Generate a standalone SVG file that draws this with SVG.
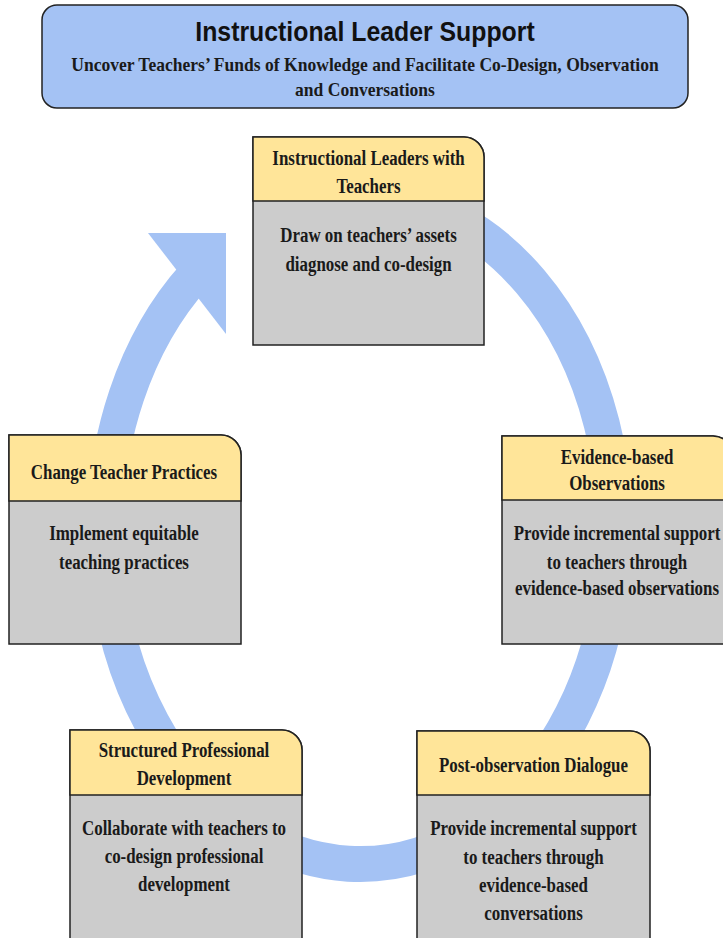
<svg xmlns="http://www.w3.org/2000/svg" width="723" height="938" viewBox="0 0 723 938">
<style>
.ring{fill:none;stroke:#a4c2f4;stroke-width:36;stroke-linecap:butt}
.arrowhead{fill:#a4c2f4}
.frame{fill:#a4c2f4;stroke:#222;stroke-width:1.5}
.box{fill:#cccccc;stroke:#222;stroke-width:1.5}
.hdr{fill:#ffe599;stroke:#222;stroke-width:1.5}
.t{font-family:"Liberation Serif","Times New Roman",serif;font-weight:bold;font-size:20px;fill:#1a1a1a;text-anchor:middle}
.sub{font-family:"Liberation Serif","Times New Roman",serif;font-weight:bold;font-size:18px;fill:#1a1a1a;text-anchor:middle}
.title{font-family:"Liberation Sans",Arial,sans-serif;font-weight:bold;font-size:27px;fill:#111;text-anchor:middle}
</style>
<rect width="723" height="938" fill="#ffffff"/>

<g id="connectors">
  <path class="ring" d="M300,205.4 A255,334 0 1 1 195.3,275"/>
  <polygon class="arrowhead" points="148,233 226,233 226,334"/>
</g>

<g id="title">
  <rect class="frame" x="42" y="5" width="646" height="103" rx="15"/>
  <text class="title" transform="translate(365,41) scale(0.92,1)">Instructional Leader Support</text>
  <text class="sub" transform="translate(365,71) scale(0.975,1)">Uncover Teachers’ Funds of Knowledge and Facilitate Co-Design, Observation</text>
  <text class="sub" transform="translate(365,96) scale(0.975,1)">and Conversations</text>
</g>

<g id="node-leaders">
  <path class="box" d="M253,137 H464 A20,20 0 0 1 484,157 V345 H253 Z"/>
  <path class="hdr" d="M253,137 H464 A20,20 0 0 1 484,157 V201 H253 Z"/>
  <text class="t" transform="translate(368.5,165) scale(0.845,1)">Instructional Leaders with</text>
  <text class="t" transform="translate(368.5,193) scale(0.845,1)">Teachers</text>
  <text class="t" transform="translate(368.5,242) scale(0.845,1)">Draw on teachers’ assets</text>
  <text class="t" transform="translate(368.5,271) scale(0.845,1)">diagnose and co-design</text>
</g>

<g id="node-observations">
  <path class="box" d="M502,436 H713 A20,20 0 0 1 733,456 V644 H502 Z"/>
  <path class="hdr" d="M502,436 H713 A20,20 0 0 1 733,456 V500 H502 Z"/>
  <text class="t" transform="translate(617,464) scale(0.845,1)">Evidence-based</text>
  <text class="t" transform="translate(617,490) scale(0.845,1)">Observations</text>
  <text class="t" transform="translate(617,540) scale(0.845,1)">Provide incremental support</text>
  <text class="t" transform="translate(617,569) scale(0.845,1)">to teachers through</text>
  <text class="t" transform="translate(617,595) scale(0.845,1)">evidence-based observations</text>
</g>

<g id="node-practices">
  <path class="box" d="M9,435 H221 A20,20 0 0 1 241,455 V644 H9 Z"/>
  <path class="hdr" d="M9,435 H221 A20,20 0 0 1 241,455 V501 H9 Z"/>
  <text class="t" transform="translate(124,479) scale(0.845,1)">Change Teacher Practices</text>
  <text class="t" transform="translate(124,540) scale(0.845,1)">Implement equitable</text>
  <text class="t" transform="translate(124,569) scale(0.845,1)">teaching practices</text>
</g>

<g id="node-development">
  <path class="box" d="M70,730 H282 A20,20 0 0 1 302,750 V950 H70 Z"/>
  <path class="hdr" d="M70,730 H282 A20,20 0 0 1 302,750 V795 H70 Z"/>
  <text class="t" transform="translate(184,757) scale(0.845,1)">Structured Professional</text>
  <text class="t" transform="translate(184,785) scale(0.845,1)">Development</text>
  <text class="t" transform="translate(184,835) scale(0.845,1)">Collaborate with teachers to</text>
  <text class="t" transform="translate(184,863) scale(0.845,1)">co-design professional</text>
  <text class="t" transform="translate(184,891) scale(0.845,1)">development</text>
</g>

<g id="node-dialogue">
  <path class="box" d="M417,731 H630 A20,20 0 0 1 650,751 V950 H417 Z"/>
  <path class="hdr" d="M417,731 H630 A20,20 0 0 1 650,751 V795 H417 Z"/>
  <text class="t" transform="translate(533.5,772) scale(0.845,1)">Post-observation Dialogue</text>
  <text class="t" transform="translate(533.5,835) scale(0.845,1)">Provide incremental support</text>
  <text class="t" transform="translate(533.5,864) scale(0.845,1)">to teachers through</text>
  <text class="t" transform="translate(533.5,892) scale(0.845,1)">evidence-based</text>
  <text class="t" transform="translate(533.5,920) scale(0.845,1)">conversations</text>
</g>
</svg>
